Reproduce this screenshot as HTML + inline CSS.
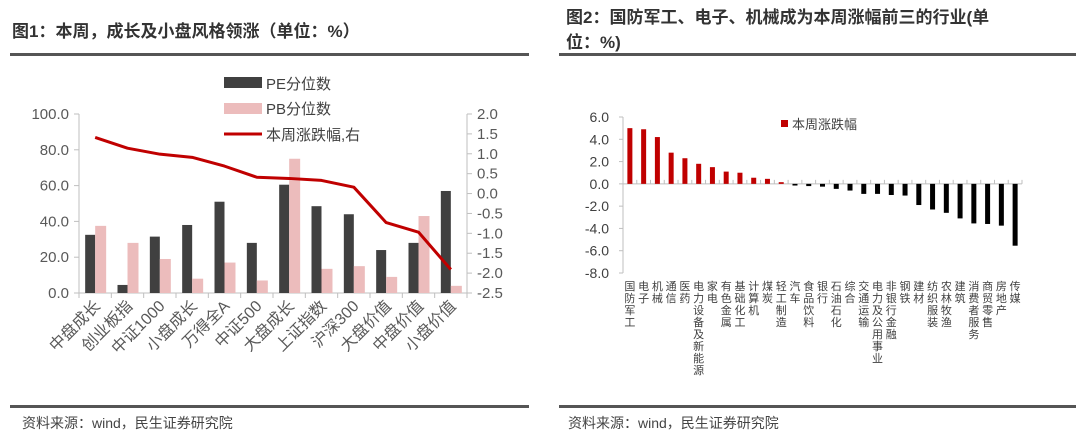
<!DOCTYPE html>
<html><head><meta charset="utf-8"><style>
html,body{margin:0;padding:0;background:#fff;}
svg{display:block;font-family:"Liberation Sans","Noto Sans CJK SC",sans-serif;}
</style></head><body>
<svg id="svg" width="1080" height="436" viewBox="0 0 1080 436" xmlns="http://www.w3.org/2000/svg">
<text x="12" y="37" font-size="17" font-weight="bold" fill="#333">图1：本周，成长及小盘风格领涨（单位：%）</text>
<text x="566" y="23" font-size="17" font-weight="bold" fill="#333">图2：国防军工、电子、机械成为本周涨幅前三的行业(单</text>
<text x="566" y="48" font-size="17" font-weight="bold" fill="#333">位：%)</text>
<rect x="10" y="53" width="519" height="3" fill="#555"/>
<rect x="559" y="53" width="517" height="3" fill="#555"/>
<rect x="10" y="405" width="519" height="3" fill="#555"/>
<rect x="559" y="405" width="517" height="3" fill="#555"/>
<text x="22" y="428" font-size="14" fill="#444">资料来源：wind，民生证券研究院</text>
<text x="568" y="428" font-size="14" fill="#444">资料来源：wind，民生证券研究院</text>
<g id="left"></g>
<g id="right"></g>
</svg>
<script>
const leftCats=["中盘成长","创业板指","中证1000","小盘成长","万得全A","中证500","大盘成长","上证指数","沪深300","大盘价值","中盘价值","小盘价值"];
const peValues=[32.5,4.5,31.5,38,51,28,60.5,48.5,44,24,28,57];
const pbValues=[37.5,28,19,8,17,7,75,13.5,15,9,43,4];
const weekChange=[1.41,1.14,0.99,0.91,0.69,0.41,0.38,0.33,0.16,-0.73,-0.97,-1.91];
const leftTicks=["0.0","20.0","40.0","60.0","80.0","100.0"];
const rightTicks=["-2.5","-2.0","-1.5","-1.0","-0.5","0.0","0.5","1.0","1.5","2.0"];
const indCats=["国防军工","电子","机械","通信","医药","电力设备及新能源","家电","有色金属","基础化工","计算机","煤炭","轻工制造","汽车","食品饮料","银行","石油石化","综合","交通运输","电力及公用事业","非银行金融","钢铁","建材","纺织服装","农林牧渔","建筑","消费者服务","商贸零售","房地产","传媒"];
const indValues=[5.0,4.9,4.2,2.8,2.3,1.8,1.5,1.1,1.0,0.55,0.45,0.15,-0.15,-0.2,-0.25,-0.45,-0.6,-0.9,-0.9,-1.0,-1.05,-1.9,-2.3,-2.6,-3.1,-3.55,-3.6,-3.75,-5.55];
const indTicks=["-8.0","-6.0","-4.0","-2.0","0.0","2.0","4.0","6.0"];

const NS="http://www.w3.org/2000/svg";
function mk(parent,tag,attrs){const e=document.createElementNS(NS,tag);for(const k in attrs)e.setAttribute(k,attrs[k]);parent.appendChild(e);return e;}

// LEFT CHART
const L=document.getElementById('left');
const lx0=79,lx1=467,ly0=293,ly1=114;
const yL=v=>ly0-(v/100)*(ly0-ly1);
const yR=v=>ly0-((v+2.5)/4.5)*(ly0-ly1);
const bw=(lx1-lx0)/leftCats.length;
const cx=i=>lx0+bw*(i+0.5);
let a=mk(L,'line',{x1:lx0,y1:ly1,x2:lx0,y2:ly0,stroke:'#bfbfbf'});


a=mk(L,'line',{x1:lx1,y1:ly1,x2:lx1,y2:ly0,stroke:'#bfbfbf'});


a=mk(L,'line',{x1:lx0,y1:ly0,x2:lx1,y2:ly0,stroke:'#bfbfbf'});


leftTicks.forEach(t=>{const y=yL(parseFloat(t));
 mk(L,'line',{x1:lx0-5,y1:y,x2:lx0,y2:y,stroke:'#bfbfbf'});
 const e=mk(L,'text',{x:lx0-10,y:y+5,'font-size':15,fill:'#595959','text-anchor':'end'});e.textContent=t;
 
 });
rightTicks.forEach(t=>{const y=yR(parseFloat(t));
 mk(L,'line',{x1:lx1,y1:y,x2:lx1+5,y2:y,stroke:'#bfbfbf'});
 const e=mk(L,'text',{x:lx1+10,y:y+5,'font-size':15,fill:'#595959'});e.textContent=t;
 
 });
for(let i=0;i<=leftCats.length;i++){mk(L,'line',{x1:lx0+bw*i,y1:ly0,x2:lx0+bw*i,y2:ly0+5,stroke:'#bfbfbf'});}
leftCats.forEach((c,i)=>{
 let r=mk(L,'rect',{x:cx(i)-10,y:yL(peValues[i]),width:10,height:ly0-yL(peValues[i]),fill:'#404040'});
 
 
 r=mk(L,'rect',{x:cx(i),y:yL(pbValues[i]),width:11,height:ly0-yL(pbValues[i]),fill:'#ecbcbc'});
 
 
 const t=mk(L,'text',{x:0,y:0,'font-size':16,fill:'#595959','text-anchor':'end',transform:`translate(${cx(i)+6},${ly0+14}) rotate(-45)`});t.textContent=c;
 
 
});
const pts=weekChange.map((v,i)=>cx(i)+','+yR(v)).join(' ');
let pl=mk(L,'polyline',{points:pts,fill:'none',stroke:'#c00000','stroke-width':3,'stroke-linejoin':'round'});


// legend
let lg=mk(L,'rect',{x:224,y:77,width:38,height:11,fill:'#404040'});


lg=mk(L,'text',{x:266,y:89,'font-size':15,fill:'#404040'});lg.textContent='PE分位数';


lg=mk(L,'rect',{x:224,y:103,width:38,height:11,fill:'#ecbcbc'});


lg=mk(L,'text',{x:266,y:114,'font-size':15,fill:'#404040'});lg.textContent='PB分位数';


lg=mk(L,'line',{x1:224,y1:134,x2:262,y2:134,stroke:'#c00000','stroke-width':3});


lg=mk(L,'text',{x:266,y:140,'font-size':15,fill:'#404040'});lg.textContent='本周涨跌幅,右';



// RIGHT CHART
const R=document.getElementById('right');
const rx0=623,rx1=1022,ry6=117,ryM8=273;
const y2=v=>ry6+(6-v)/14*(ryM8-ry6);
const cw=(rx1-rx0)/indCats.length;
const cx2=i=>rx0+cw*(i+0.5);
a=mk(R,'line',{x1:rx0,y1:ry6,x2:rx0,y2:ryM8,stroke:'#bfbfbf'});


a=mk(R,'line',{x1:rx0,y1:y2(0),x2:rx1,y2:y2(0),stroke:'#bfbfbf'});


for(let i=0;i<=indCats.length;i++){mk(R,'line',{x1:rx0+cw*i,y1:y2(0),x2:rx0+cw*i,y2:y2(0)-4,stroke:'#bfbfbf'});}
indTicks.forEach(t=>{const y=y2(parseFloat(t));
 mk(R,'line',{x1:rx0-4,y1:y,x2:rx0,y2:y,stroke:'#bfbfbf'});
 const e=mk(R,'text',{x:rx0-14,y:y+5,'font-size':14,fill:'#404040','text-anchor':'end'});e.textContent=t;
 
 });
indCats.forEach((c,i)=>{
 const v=indValues[i];const top=Math.min(y2(v),y2(0));
 const r=mk(R,'rect',{x:cx2(i)-2.5,y:top,width:5,height:Math.abs(y2(v)-y2(0)),fill:v>=0?'#c00000':'#000'});
 
 
 const t=mk(R,'text',{x:cx2(i),y:290,'font-size':11,fill:'#404040','text-anchor':'middle'});
 
 
 [...c].forEach((ch,k)=>{const s=mk(t,'tspan',{x:cx2(i),y:290+k*12});s.textContent=ch;});
});
lg=mk(R,'rect',{x:781,y:120,width:7,height:7,fill:'#c00000'});


lg=mk(R,'text',{x:792,y:129,'font-size':13,fill:'#404040'});lg.textContent='本周涨跌幅';


</script>
</body></html>
